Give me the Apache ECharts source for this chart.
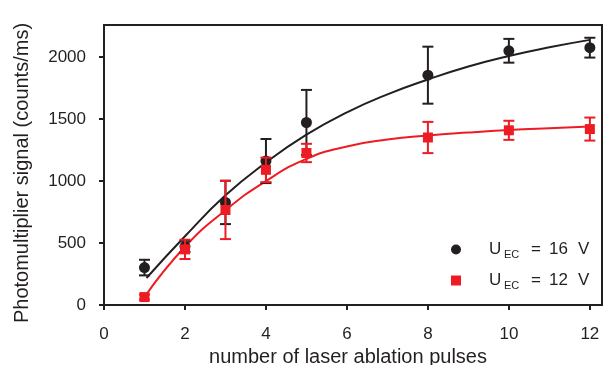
<!DOCTYPE html>
<html>
<head>
<meta charset="utf-8">
<script src="https://cdn.jsdelivr.net/npm/echarts@6/dist/echarts.min.js"></script>
<style>
	html, body { margin: 0; padding: 0; background: #fff; }
	#chart { width: 609px; height: 365px; }
</style>
</head>
<body>
<div id="chart"></div>
<script>
// measured points
var pulses = [1, 2, 3, 4, 5, 8, 10, 12];
var signal16 = [302, 473, 828, 1162, 1473, 1855, 2052, 2077];
var error16 = [63, 45, 175, 178, 263, 230, 96, 80];
var signal12 = [64, 449, 767, 1091, 1227, 1352, 1410, 1420];
var error12 = [20, 78, 235, 99, 74, 126, 77, 93];

// fitted curves
var fitX16 = [1.05, 2, 3, 4, 5, 6, 7, 8, 9, 10, 11, 12];
var fit16 = [218, 555, 885, 1150, 1375, 1555, 1700, 1820, 1925, 2010, 2080, 2140];
var fitX12 = [1, 2, 3, 4, 5, 6, 7, 8, 9, 10, 11, 12];
var fit12 = [65, 470, 765, 1000, 1180, 1280, 1335, 1368, 1392, 1412, 1427, 1440];

var xTicks = [0, 2, 4, 6, 8, 10, 12];
var yTicks = [0, 500, 1000, 1500, 2000];

var BLACK = '#231f20';
var RED = '#ed1c24';
var FONT = 'Liberation Sans, Arial, sans-serif';

function pairs(xs, ys)
{
	var out = [];
	for (var i = 0; i < xs.length; i++)
		out.push([xs[i], ys[i]]);
	return out;
}

function errorData(ys, errs)
{
	var out = [];
	for (var i = 0; i < pulses.length; i++)
		out.push([pulses[i], ys[i] - errs[i], ys[i] + errs[i]]);
	return out;
}

function errorBars(color)
{
	return function(params, api)
	{
		var x = api.value(0);
		var lo = api.coord([x, api.value(1)]);
		var hi = api.coord([x, api.value(2)]);
		var w = 5.5;
		var style = { stroke: color, lineWidth: 2 };
		return {
			type: 'group',
			children:
			[
				{ type: 'line', shape: { x1: hi[0], y1: hi[1], x2: lo[0], y2: lo[1] }, style: style },
				{ type: 'line', shape: { x1: hi[0] - w, y1: hi[1], x2: hi[0] + w, y2: hi[1] }, style: style },
				{ type: 'line', shape: { x1: lo[0] - w, y1: lo[1], x2: lo[0] + w, y2: lo[1] }, style: style }
			]
		};
	};
}

var chart = echarts.init(document.getElementById('chart'), null, { renderer: 'canvas' });

var legendRich =
{
	sp: { width: 23 },
	u: { fontSize: 17, fontFamily: FONT, color: BLACK, width: 15 },
	s: { fontSize: 11, fontFamily: FONT, color: BLACK, width: 27, padding: [10, 0, 0, 0] },
	e: { fontSize: 17, fontFamily: FONT, color: BLACK, width: 18 },
	n: { fontSize: 17, fontFamily: FONT, color: BLACK, width: 29 },
	v: { fontSize: 17, fontFamily: FONT, color: BLACK }
};

var options =
{
	animation: false,
	grid:
	{
		left: 104, right: 7, top: 25, bottom: 60,
		outerBoundsMode: 'none', containLabel: false,
		show: true, borderColor: BLACK, borderWidth: 2
	},
	xAxis:
	{
		type: 'value',
		min: 0,
		max: 12.3,
		interval: 2,
		name: 'number of laser ablation pulses',
		nameLocation: 'middle',
		nameGap: 40,
		nameTextStyle: { fontSize: 20, fontFamily: FONT, color: BLACK, padding: [0, 10, 0, 0] },
		axisLine: { show: true, lineStyle: { color: BLACK, width: 2 } },
		axisTick: { show: true, length: 5, lineStyle: { color: BLACK, width: 2 } },
		axisLabel:
		{
			fontSize: 17, fontFamily: FONT, color: BLACK, margin: 21, showMaxLabel: false,
			formatter: function(v) { return xTicks.indexOf(v) >= 0 ? String(v) : ''; }
		},
		splitLine: { show: false }
	},
	yAxis:
	{
		type: 'value',
		min: 0,
		max: 2260,
		interval: 500,
		name: 'Photomultiplier signal (counts/ms)',
		nameLocation: 'middle',
		nameGap: 72,
		nameTextStyle: { fontSize: 20, fontFamily: FONT, color: BLACK, padding: [0, 16, 0, 0] },
		axisLine: { show: true, lineStyle: { color: BLACK, width: 2 } },
		axisTick: { show: true, length: 5, lineStyle: { color: BLACK, width: 2 } },
		axisLabel:
		{
			fontSize: 17, fontFamily: FONT, color: BLACK, margin: 18, showMaxLabel: false,
			formatter: function(v) { return yTicks.indexOf(v) >= 0 ? String(v) : ''; }
		},
		splitLine: { show: false }
	},
	legend:
	{
		orient: 'vertical',
		left: 446,
		top: 236,
		itemWidth: 10,
		itemHeight: 10,
		itemGap: 12,
		data: ['U16', 'U12'],
		formatter: function(name)
		{
			var volts = name === 'U16' ? '16' : '12';
			return '{sp| }{u|U}{s|EC}{e|=}{n|' + volts + '}{v|V}';
		},
		textStyle: { rich: legendRich }
	},
	series:
	[
		{
			name: 'fit16', type: 'line', smooth: true, showSymbol: false, silent: true,
			lineStyle: { color: BLACK, width: 2 }, data: pairs(fitX16, fit16), z: 2
		},
		{
			name: 'fit12', type: 'line', smooth: true, showSymbol: false, silent: true,
			lineStyle: { color: RED, width: 2 }, data: pairs(fitX12, fit12), z: 2
		},
		{
			name: 'err16', type: 'custom', renderItem: errorBars(BLACK), data: errorData(signal16, error16), z: 3
		},
		{
			name: 'U16', type: 'scatter', symbol: 'circle', symbolSize: 11,
			itemStyle: { color: BLACK, opacity: 1 }, data: pairs(pulses, signal16), z: 4
		},
		{
			name: 'err12', type: 'custom', renderItem: errorBars(RED), data: errorData(signal12, error12), z: 5
		},
		{
			name: 'U12', type: 'scatter', symbol: 'rect', symbolSize: 10,
			itemStyle: { color: RED, opacity: 1 }, data: pairs(pulses, signal12), z: 6
		}
	]
};

chart.setOption(options);
</script>
</body>
</html>
